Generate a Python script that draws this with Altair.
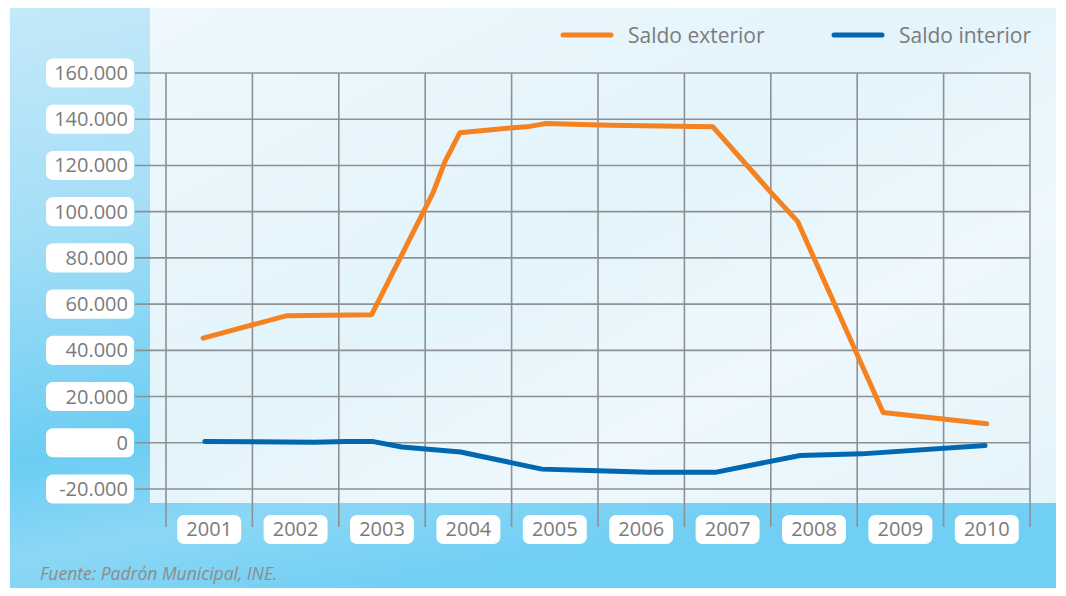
import altair as alt
import pandas as pd

# ---------------- data ----------------
years = list(range(2001, 2011))
year_labels = [str(y) for y in years]

y_ticks = [-20000, 0, 20000, 40000, 60000, 80000, 100000, 120000, 140000, 160000]
y_labels = ["-20.000", "0", "20.000", "40.000", "60.000", "80.000",
            "100.000", "120.000", "140.000", "160.000"]

band_edges = [2000.5 + i for i in range(11)]

ext_x = [2000.93, 2001.90, 2002.88, 2003.59, 2003.73, 2003.90, 2004.48, 2004.71,
         2004.89, 2005.64, 2006.83, 2007.49, 2007.81, 2008.80, 2010.00]
ext_v = [45300, 55000, 55400, 108100, 121800, 134100, 136200, 136900,
         138100, 137400, 136700, 108800, 95800, 13100, 8200]

int_x = [2000.95, 2002.22, 2002.58, 2002.90, 2003.23, 2003.91, 2004.85, 2005.50,
         2006.09, 2006.87, 2007.84, 2008.55, 2009.98]
int_v = [600, 200, 600, 500, -1800, -4000, -11400, -12100,
         -12700, -12700, -5500, -4800, -1200]

series_names = ["Saldo exterior", "Saldo interior"]
series_colors = ["#f58220", "#0067b1"]

# ---------------- tables ----------------
lines_df = pd.DataFrame(
    {"x": ext_x + int_x,
     "v": ext_v + int_v,
     "serie": [series_names[0]] * len(ext_x) + [series_names[1]] * len(int_x)}
)
ytick_df = pd.DataFrame({"v": y_ticks, "label": y_labels})
year_df = pd.DataFrame({"year": years, "label": year_labels})
edge_df = pd.DataFrame({"x": band_edges})
one = alt.Data(values=[{"a": 1}])

FONT = "Open Sans"
TXT = "#7b7b7b"
GRID = "#8d9094"

xs = alt.Scale(domain=[2000.5, 2010.5], nice=False, zero=False)
ys = alt.Scale(domain=[-20000, 160000], nice=False, zero=False)

# ---------------- background ----------------
outer_grad = alt.Gradient(
    gradient="linear", x1=0, y1=0, x2=0.35, y2=1,
    stops=[alt.GradientStop(color="#c4e9f9", offset=0),
           alt.GradientStop(color="#a4def7", offset=0.35),
           alt.GradientStop(color="#6ccdf3", offset=0.7),
           alt.GradientStop(color="#8cd7f5", offset=0.85),
           alt.GradientStop(color="#72cff4", offset=1)])
bg_outer = alt.Chart(one).mark_rect(fill=outer_grad).encode(
    x=alt.value(-156), x2=alt.value(890), y=alt.value(-65), y2=alt.value(515))

panel_grad = alt.Gradient(
    gradient="linear", x1=0, y1=0, x2=1, y2=1,
    stops=[alt.GradientStop(color="#eef8fd", offset=0),
           alt.GradientStop(color="#e3f4fb", offset=0.45),
           alt.GradientStop(color="#eef8fd", offset=0.7),
           alt.GradientStop(color="#e4f4fb", offset=1)])
bg_panel = alt.Chart(one).mark_rect(fill=panel_grad).encode(
    x=alt.value(-16), x2=alt.value(890), y=alt.value(-65), y2=alt.value(430))

# ---------------- grid ----------------
hgrid = alt.Chart(ytick_df).mark_rule(color=GRID, strokeWidth=1.6).encode(
    y=alt.Y("v:Q", scale=ys, axis=None), x=alt.value(-31), x2=alt.value(864))
vgrid = alt.Chart(edge_df).mark_rule(color=GRID, strokeWidth=1.6).encode(
    x=alt.X("x:Q", scale=xs, axis=None), y=alt.value(0), y2=alt.value(454))

# ---------------- y labels ----------------
ybox = alt.Chart(ytick_df).transform_calculate(
    lo="datum.v - 6300", hi="datum.v + 6300"
).mark_rect(fill="white", cornerRadius=7).encode(
    y=alt.Y("lo:Q", scale=ys, axis=None), y2="hi:Q",
    x=alt.value(-120), x2=alt.value(-32))
ytext = alt.Chart(ytick_df).mark_text(
    align="right", baseline="middle", font=FONT, fontSize=20, color=TXT, dy=1
).encode(y=alt.Y("v:Q", scale=ys, axis=None), x=alt.value(-38), text="label:N")

# ---------------- x labels ----------------
xbox = alt.Chart(year_df).transform_calculate(
    lo="datum.year - 0.37", hi="datum.year + 0.37"
).mark_rect(fill="white", cornerRadius=7).encode(
    x=alt.X("lo:Q", scale=xs, axis=None), x2="hi:Q",
    y=alt.value(442), y2=alt.value(471))
xtext = alt.Chart(year_df).mark_text(
    align="center", baseline="middle", font=FONT, fontSize=20, color=TXT
).encode(x=alt.X("year:Q", scale=xs, axis=None), y=alt.value(457), text="label:N")

# ---------------- lines ----------------
lines = alt.Chart(lines_df).mark_line(strokeWidth=5, strokeCap="round", strokeJoin="round").encode(
    x=alt.X("x:Q", scale=xs, axis=None),
    y=alt.Y("v:Q", scale=ys, axis=None),
    color=alt.Color("serie:N", scale=alt.Scale(domain=series_names, range=series_colors), legend=None),
    detail="serie:N",
)

# ---------------- legend ----------------
leg1 = alt.Chart(one).mark_rule(color=series_colors[0], strokeWidth=5, strokeCap="round").encode(
    x=alt.value(397), x2=alt.value(445), y=alt.value(-38))
leg1t = alt.Chart(one).mark_text(align="left", baseline="middle", font=FONT, fontSize=21, color=TXT).encode(
    x=alt.value(462), y=alt.value(-36), text=alt.value(series_names[0]))
leg2 = alt.Chart(one).mark_rule(color=series_colors[1], strokeWidth=5, strokeCap="round").encode(
    x=alt.value(668), x2=alt.value(716), y=alt.value(-38))
leg2t = alt.Chart(one).mark_text(align="left", baseline="middle", font=FONT, fontSize=21, color=TXT).encode(
    x=alt.value(733), y=alt.value(-36), text=alt.value(series_names[1]))

# ---------------- source ----------------
source = alt.Chart(one).mark_text(
    align="left", baseline="alphabetic", font=FONT, fontSize=17.5, fontStyle="italic", color="#8c8c8c"
).encode(x=alt.value(-126), y=alt.value(507), text=alt.value("Fuente: Padrón Municipal, INE."))

chart = alt.layer(
    bg_outer, bg_panel, hgrid, vgrid, ybox, ytext, xbox, xtext, lines,
    leg1, leg1t, leg2, leg2t, source
).properties(
    width=864, height=416,
    autosize=alt.AutoSizeParams(type="none"),
    padding={"left": 158, "top": 65, "right": 26, "bottom": 99},
    background="white",
).configure_view(stroke=None)

chart.save("out.html", embed_options={"renderer": "svg", "actions": False})
